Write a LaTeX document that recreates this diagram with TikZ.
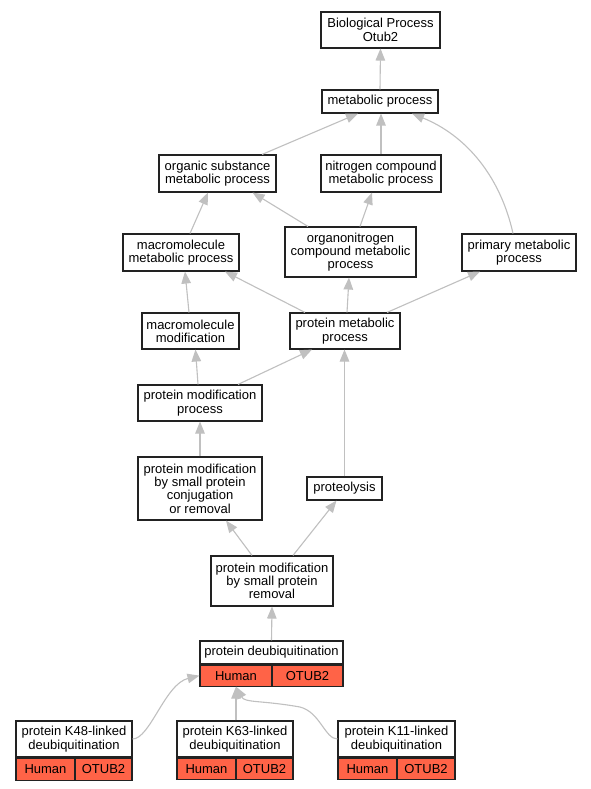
\documentclass[tikz,border=0pt]{standalone}
\usepackage{fontspec}
\setmainfont{Liberation Sans}
\usepackage{tikz}
\usetikzlibrary{arrows.meta, positioning}
\definecolor{edgegray}{HTML}{C0C0C0}
\definecolor{cellred}{HTML}{FF6347}
\definecolor{boxline}{HTML}{222222}
\newcommand{\gofont}{\fontsize{13}{13.3}\selectfont}

\begin{document}
\begin{tikzpicture}[
    x=1pt, y=-1pt,
    term/.style={rectangle, draw=boxline, line width=1.1pt, fill=white,
                 align=center, inner sep=0pt, font=\gofont},
    cell/.style={term, fill=cellred},
    arr/.style={-{Triangle[length=12pt, width=9.5pt]}, line width=1.1pt, color=edgegray}
]
\fill[white] (0,0) rectangle (591,789);
\useasboundingbox (0,0) rectangle (591,789);

% terms
\node[term, minimum width=119pt, minimum height=36pt] (bp) at (380.5,30) {Biological Process\\Otub2};
\node[term, minimum width=116pt, minimum height=23pt] (metab) at (380,101.5) {metabolic process};
\node[term, minimum width=117pt, minimum height=37pt] (organic) at (217.5,173.5) {organic substance\\metabolic process};
\node[term, minimum width=120pt, minimum height=37pt] (nitrogen) at (381,173.5) {nitrogen compound\\metabolic process};
\node[term, minimum width=116pt, minimum height=37pt] (mmp) at (181,252.5) {macromolecule\\metabolic process};
\node[term, minimum width=131pt, minimum height=50pt] (onc) at (350.5,252) {organonitrogen\\compound metabolic\\process};
\node[term, minimum width=114pt, minimum height=37pt] (primary) at (519,252.5) {primary metabolic\\process};
\node[term, minimum width=97pt, minimum height=36pt] (mmod) at (190.5,331) {macromolecule\\modification};
\node[term, minimum width=110pt, minimum height=36pt] (protmet) at (345,331) {protein metabolic\\process};
\node[term, minimum width=124pt, minimum height=36pt] (pmp) at (200,403) {protein modification\\process};
\node[term, minimum width=124pt, minimum height=63pt] (pmspc) at (200,488.5) {protein modification\\by small protein\\conjugation\\or removal};
\node[term, minimum width=75pt, minimum height=23pt] (proteolysis) at (344.5,488.5) {proteolysis};
\node[term, minimum width=122pt, minimum height=50pt] (pmspr) at (272,581) {protein modification\\by small protein\\removal};

% annotated terms
\node[term, minimum width=143pt, minimum height=23pt] (deubiq) at (271.5,652.5) {protein deubiquitination};
\node[cell, minimum width=72pt, minimum height=21pt, anchor=north west] (deubiqA) at (deubiq.south west) {Human};
\node[cell, minimum width=71pt, minimum height=21pt, anchor=north east] (deubiqB) at (deubiq.south east) {OTUB2};

\node[term, minimum width=116pt, minimum height=36pt] (k48) at (74,739) {protein K48-linked\\deubiquitination};
\node[cell, minimum width=59pt, minimum height=22pt, anchor=north west] (k48A) at (k48.south west) {Human};
\node[cell, minimum width=57pt, minimum height=22pt, anchor=north east] (k48B) at (k48.south east) {OTUB2};

\node[term, minimum width=116pt, minimum height=36pt] (k63) at (235,739) {protein K63-linked\\deubiquitination};
\node[cell, minimum width=59pt, minimum height=21pt, anchor=north west] (k63A) at (k63.south west) {Human};
\node[cell, minimum width=57pt, minimum height=21pt, anchor=north east] (k63B) at (k63.south east) {OTUB2};

\node[term, minimum width=117pt, minimum height=36pt] (k11) at (396.5,739) {protein K11-linked\\deubiquitination};
\node[cell, minimum width=59pt, minimum height=21pt, anchor=north west] (k11A) at (k11.south west) {Human};
\node[cell, minimum width=58pt, minimum height=21pt, anchor=north east] (k11B) at (k11.south east) {OTUB2};

% is_a edges
\draw[arr] (metab.north) -- (bp.south);
\draw[arr] ([xshift=44.5pt]organic.north) -- ([xshift=-22pt]metab.south);
\draw[arr] (nitrogen.north) -- (nitrogen.north |- metab.south);
\draw[arr] ([xshift=-6pt]primary.north) .. controls (500,175) and (465,135) .. ([xshift=32pt]metab.south);
\draw[arr] ([xshift=9pt]mmp.north) -- ([xshift=-9.5pt]organic.south);
\draw[arr] ([xshift=-42.5pt]onc.north) -- ([xshift=35pt]organic.south);
\draw[arr] ([xshift=9.5pt]onc.north) -- ([xshift=-9pt]nitrogen.south);
\draw[arr] ([xshift=-1.5pt]mmod.north) -- ([xshift=4pt]mmp.south);
\draw[arr] ([xshift=-40pt]protmet.north) -- ([xshift=44pt]mmp.south);
\draw[arr] ([xshift=2pt]protmet.north) -- ([xshift=-1.5pt]onc.south);
\draw[arr] ([xshift=42pt]protmet.north) -- ([xshift=-39pt]primary.south);
\draw[arr] ([xshift=-2pt]pmp.north) -- ([xshift=5pt]mmod.south);
\draw[arr] ([xshift=38pt]pmp.north) -- ([xshift=-33pt]protmet.south);
\draw[arr] (pmspc.north) -- (pmp.south);
\draw[arr] (proteolysis.north) -- (proteolysis.north |- protmet.south);
\draw[arr] ([xshift=-20pt]pmspr.north) -- ([xshift=26pt]pmspc.south);
\draw[arr] ([xshift=21pt]pmspr.north) -- ([xshift=-8pt]proteolysis.south);
\draw[arr] (deubiq.north) -- (pmspr.south);
\draw[arr] (k48.east) .. controls (150,739) and (165,684) .. (deubiqA.west);
\draw[arr] (k63.north -| deubiqA.south) -- (deubiqA.south);
\draw[arr] (k11.west) .. controls (325,739) and (320,712) .. (300,707)
    .. controls (260,700) and (245,703) .. (deubiqA.south);

\end{tikzpicture}
\end{document}
